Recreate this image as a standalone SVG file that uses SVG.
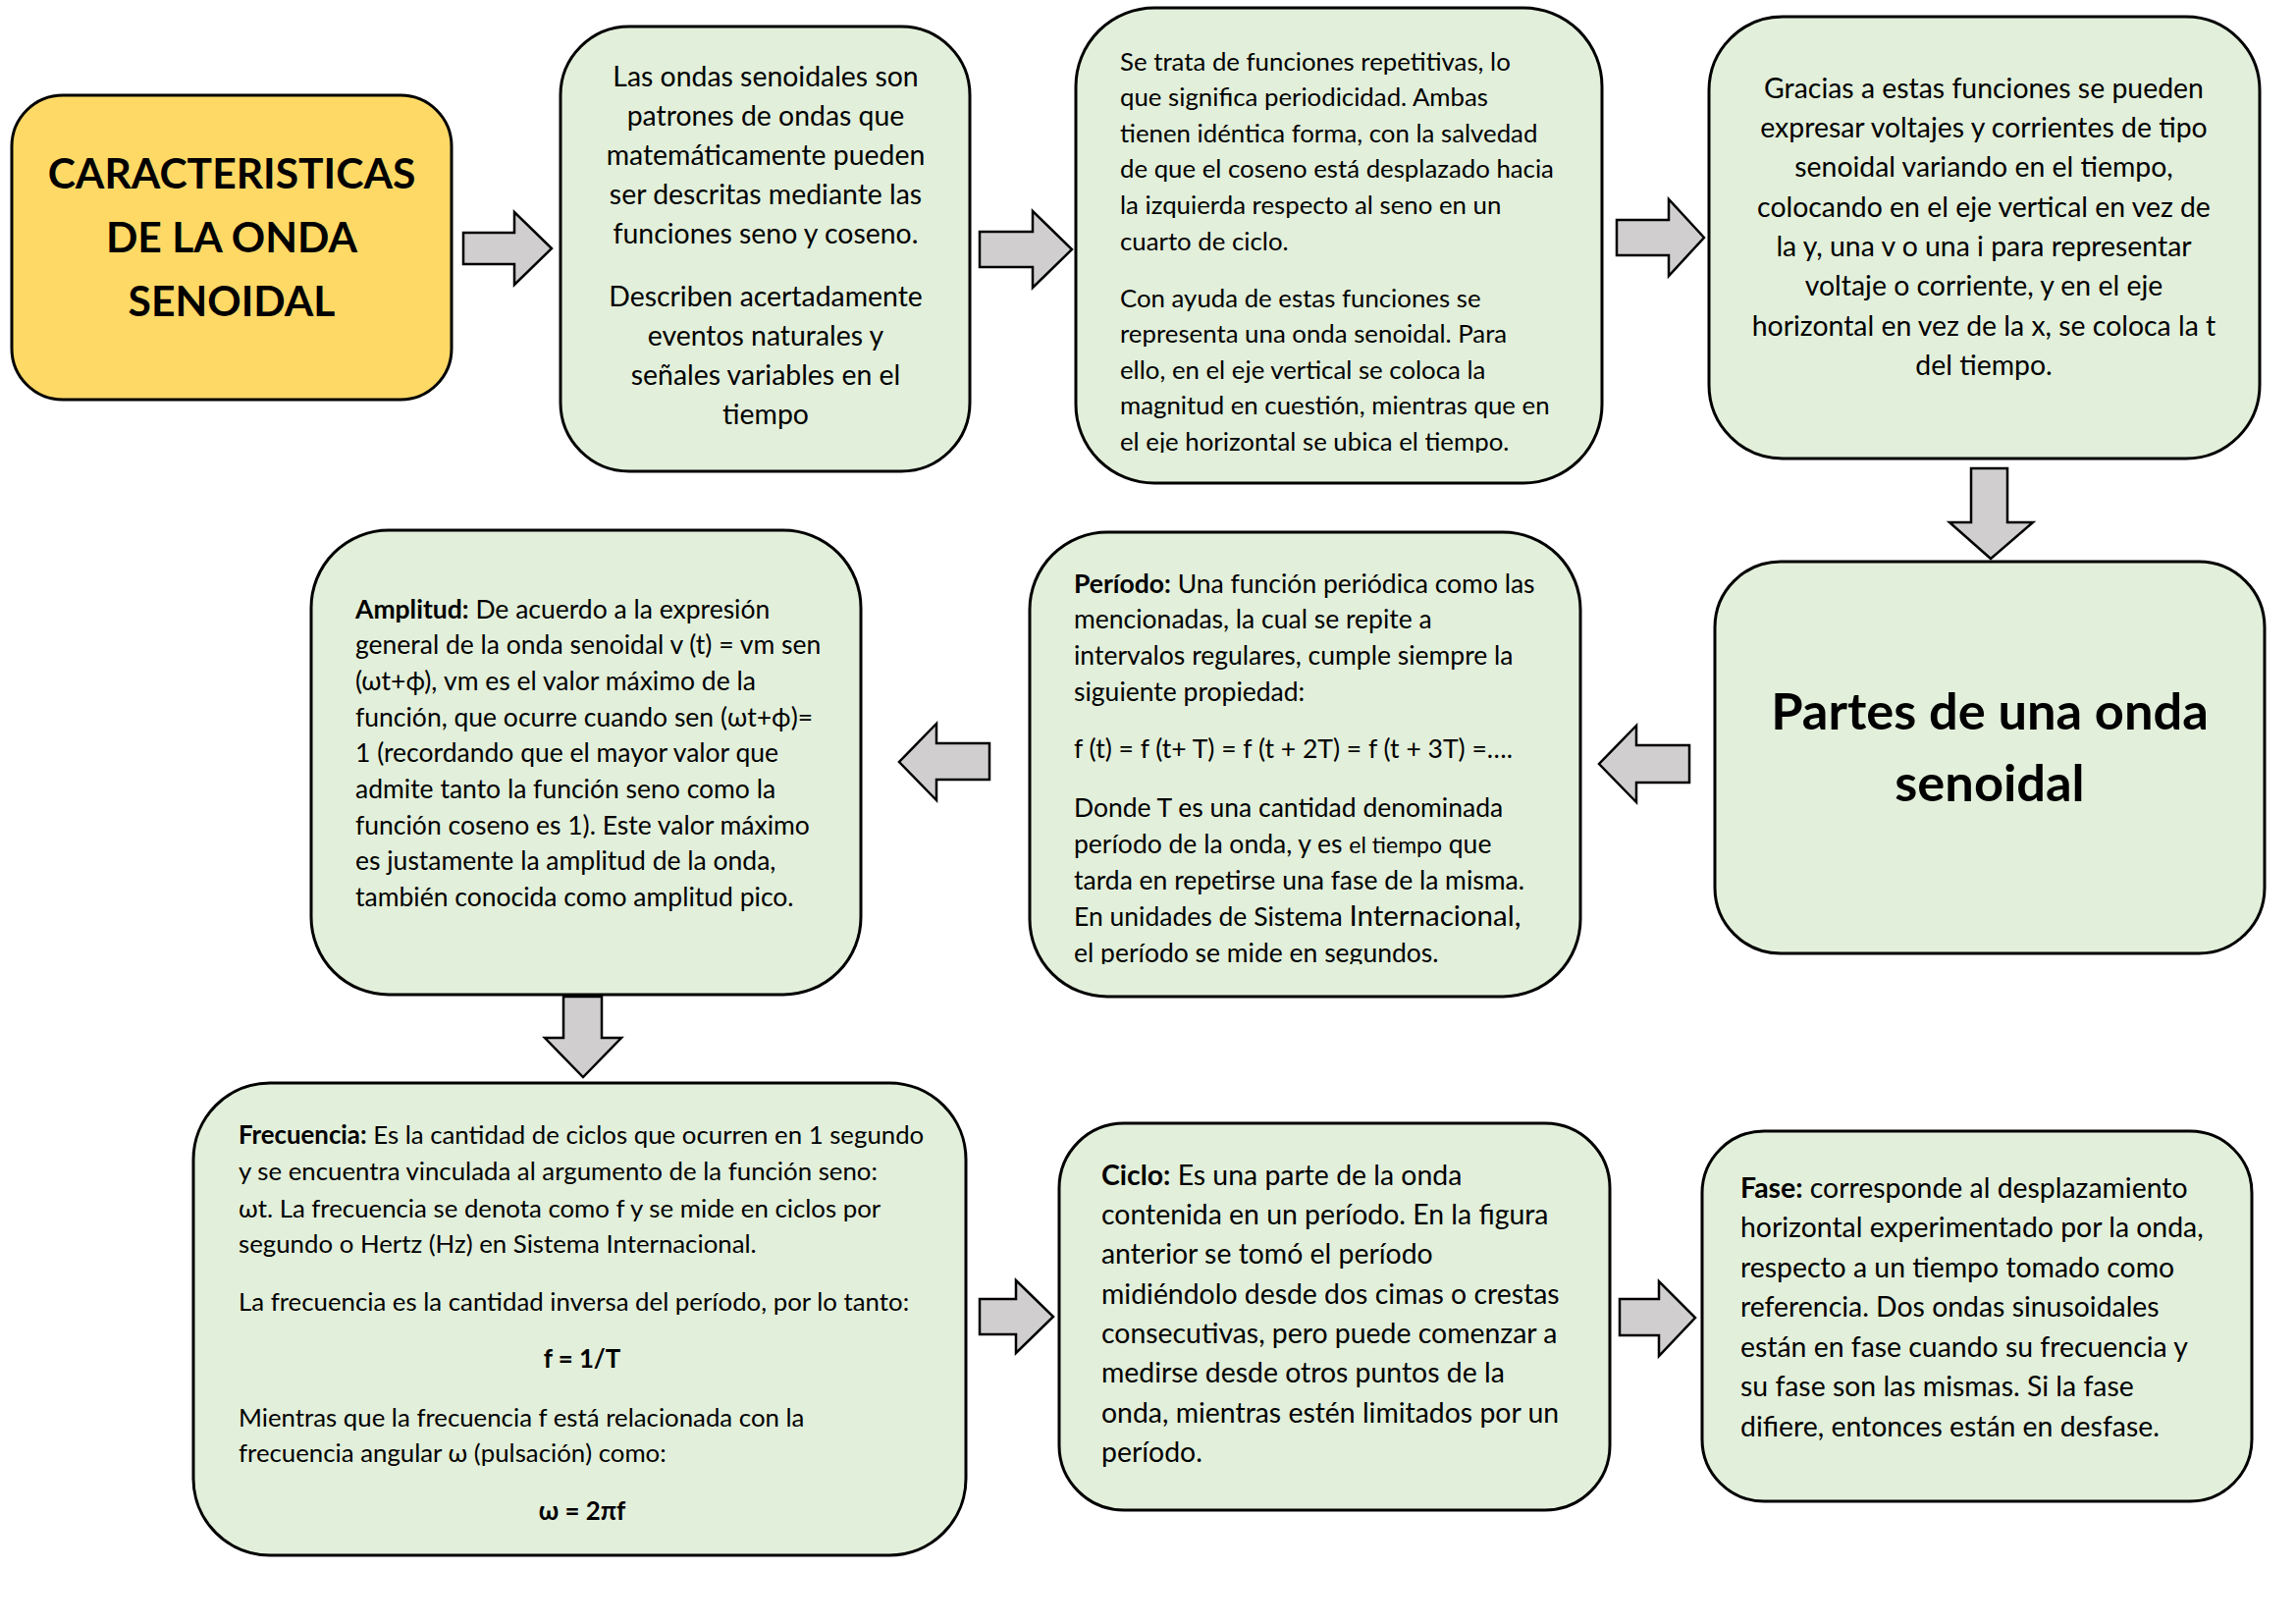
<svg xmlns="http://www.w3.org/2000/svg" width="2339" height="1654" viewBox="0 0 2339 1654">
<defs>
<style>
.node{fill:#E2EFDA;stroke:#000;stroke-width:3}
.title{fill:#FFD966;stroke:#000;stroke-width:3}
.arrow{fill:#D0CECE;stroke:#000;stroke-width:2.5;stroke-linejoin:miter}
text{font-family:Lato,"Open Sans","Liberation Sans",sans-serif;fill:#000}
.big{font-size:42.6px;font-weight:bold;text-anchor:middle}
.sub{font-size:52.4px;font-weight:bold;text-anchor:middle}
.m{font-size:28.4px}
.s{font-size:26.5px}
.x{font-size:25.8px}
.c{text-anchor:middle}
.b{font-weight:bold}
</style>
<clipPath id="clipC"><rect x="1096" y="8" width="536" height="453"/></clipPath>
<clipPath id="clipF"><rect x="1049" y="542" width="561" height="440"/></clipPath>
</defs>
<rect width="2339" height="1654" fill="#fff"/>
<g id="connectors">
<polygon class="arrow" points="472,237 524,237 524,216 562,253 524,290 524,269 472,269"/>
<polygon class="arrow" points="998,236 1052,236 1052,215 1092,254 1052,293 1052,272 998,272"/>
<polygon class="arrow" points="1647,224 1700,224 1700,203 1736,242 1700,281 1700,260 1647,260"/>
<polygon class="arrow" points="2008,477 2045,477 2045,532 2071,532 2028,569 1986,532 2008,532"/>
<polygon class="arrow" points="1721,759 1667,759 1667,739 1629,778 1667,817 1667,797 1721,797"/>
<polygon class="arrow" points="1008,757 954,757 954,737 916,776 954,815 954,794 1008,794"/>
<polygon class="arrow" points="574,1015 613,1015 613,1057 633,1057 594,1097 555,1057 574,1057"/>
<polygon class="arrow" points="998,1323 1035,1323 1035,1304 1073,1341 1035,1378 1035,1359 998,1359"/>
<polygon class="arrow" points="1650,1323 1690,1323 1690,1305 1727,1342 1690,1381 1690,1360 1650,1360"/>
</g>
<g id="n-title">
<rect class="title" x="12" y="97" width="448" height="310" rx="52"/>
<text class="big" x="236" y="192">CARACTERISTICAS</text>
<text class="big" x="236" y="257">DE LA ONDA</text>
<text class="big" x="236" y="322">SENOIDAL</text>
</g>
<g id="n-intro">
<rect class="node" x="571" y="27" width="417" height="453" rx="70"/>
<text class="m c" x="780" y="88">Las ondas senoidales son</text>
<text class="m c" x="780" y="128">patrones de ondas que</text>
<text class="m c" x="780" y="168">matemáticamente pueden</text>
<text class="m c" x="780" y="208">ser descritas mediante las</text>
<text class="m c" x="780" y="248">funciones seno y coseno.</text>
<text class="m c" x="780" y="312">Describen acertadamente</text>
<text class="m c" x="780" y="352">eventos naturales y</text>
<text class="m c" x="780" y="392">señales variables en el</text>
<text class="m c" x="780" y="432">tiempo</text>
</g>
<g id="n-periodicidad">
<rect class="node" x="1096" y="8" width="536" height="484" rx="80"/>
<g clip-path="url(#clipC)">
<text class="x" x="1141" y="71.5">Se trata de funciones repetitivas, lo</text>
<text class="x" x="1141" y="108">que significa periodicidad. Ambas</text>
<text class="x" x="1141" y="144.7">tienen idéntica forma, con la salvedad</text>
<text class="x" x="1141" y="181.3">de que el coseno está desplazado hacia</text>
<text class="x" x="1141" y="218">la izquierda respecto al seno en un</text>
<text class="x" x="1141" y="254.5">cuarto de ciclo.</text>
<text class="x" x="1141" y="312.5">Con ayuda de estas funciones se</text>
<text class="x" x="1141" y="349">representa una onda senoidal. Para</text>
<text class="x" x="1141" y="385.7">ello, en el eje vertical se coloca la</text>
<text class="x" x="1141" y="422.3">magnitud en cuestión, mientras que en</text>
<text class="x" x="1141" y="459">el eje horizontal se ubica el tiempo.</text>
</g>
</g>
<g id="n-voltajes">
<rect class="node" x="1741" y="17" width="561" height="450" rx="75"/>
<text class="m c" x="2021" y="99.5">Gracias a estas funciones se pueden</text>
<text class="m c" x="2021" y="140">expresar voltajes y corrientes de tipo</text>
<text class="m c" x="2021" y="180.2">senoidal variando en el tiempo,</text>
<text class="m c" x="2021" y="220.5">colocando en el eje vertical en vez de</text>
<text class="m c" x="2021" y="261">la y, una v o una i para representar</text>
<text class="m c" x="2021" y="301.3">voltaje o corriente, y en el eje</text>
<text class="m c" x="2021" y="341.6">horizontal en vez de la x, se coloca la t</text>
<text class="m c" x="2021" y="382">del tiempo.</text>
</g>
<g id="n-partes">
<rect class="node" x="1747" y="572" width="560" height="399" rx="67"/>
<text class="sub" x="2027" y="743">Partes de una onda</text>
<text class="sub" x="2027" y="816">senoidal</text>
</g>
<g id="n-periodo">
<rect class="node" x="1049" y="542" width="561" height="473" rx="79"/>
<g clip-path="url(#clipF)">
<text class="s" x="1094" y="603.5"><tspan class="b">Período:</tspan> Una función periódica como las</text>
<text class="s" x="1094" y="640">mencionadas, la cual se repite a</text>
<text class="s" x="1094" y="676.5">intervalos regulares, cumple siempre la</text>
<text class="s" x="1094" y="713.5">siguiente propiedad:</text>
<text class="s" x="1094" y="771.5">f (t) = f (t+ T) = f (t + 2T) = f (t + 3T) =….</text>
<text class="s" x="1094" y="832">Donde T es una cantidad denominada</text>
<text class="s" x="1094" y="868.5">período de la onda, y es <tspan font-size="23px">el tiempo</tspan> que</text>
<text class="s" x="1094" y="905.5">tarda en repetirse una fase de la misma.</text>
<text class="s" x="1094" y="943">En unidades de Sistema <tspan font-size="29.5px">Internacional,</tspan></text>
<text class="s" x="1094" y="980">el período se mide en segundos.</text>
</g>
</g>
<g id="n-amplitud">
<rect class="node" x="317" y="540" width="560" height="473" rx="79"/>
<text class="s" x="362" y="630"><tspan class="b">Amplitud:</tspan> De acuerdo a la expresión</text>
<text class="s" x="362" y="666">general de la onda senoidal v (t) = vm sen</text>
<text class="s" x="362" y="703">(ωt+ϕ), vm es el valor máximo de la</text>
<text class="s" x="362" y="740">función, que ocurre cuando sen (ωt+ϕ)=</text>
<text class="s" x="362" y="776">1 (recordando que el mayor valor que</text>
<text class="s" x="362" y="813">admite tanto la función seno como la</text>
<text class="s" x="362" y="850">función coseno es 1). Este valor máximo</text>
<text class="s" x="362" y="886">es justamente la amplitud de la onda,</text>
<text class="s" x="362" y="923">también conocida como amplitud pico.</text>
</g>
<g id="n-frecuencia">
<rect class="node" x="197" y="1103" width="787" height="481" rx="78"/>
<text class="x" x="243" y="1165"><tspan class="b">Frecuencia:</tspan> Es la cantidad de ciclos que ocurren en 1 segundo</text>
<text class="x" x="243" y="1202">y se encuentra vinculada al argumento de la función seno:</text>
<text class="x" x="243" y="1240">ωt. La frecuencia se denota como f y se mide en ciclos por</text>
<text class="x" x="243" y="1275.5">segundo o Hertz (Hz) en Sistema Internacional.</text>
<text class="x" x="243" y="1335">La frecuencia es la cantidad inversa del período, por lo tanto:</text>
<text class="x b c" x="593" y="1393">f = 1/T</text>
<text class="x" x="243" y="1453">Mientras que la frecuencia f está relacionada con la</text>
<text class="x" x="243" y="1489">frecuencia angular ω (pulsación) como:</text>
<text class="x b c" x="593" y="1548">ω = 2πf</text>
</g>
<g id="n-ciclo">
<rect class="node" x="1079" y="1144" width="561" height="394" rx="66"/>
<text class="m" x="1122" y="1206.5"><tspan class="b">Ciclo:</tspan> Es una parte de la onda</text>
<text class="m" x="1122" y="1246.8">contenida en un período. En la figura</text>
<text class="m" x="1122" y="1287.2">anterior se tomó el período</text>
<text class="m" x="1122" y="1327.5">midiéndolo desde dos cimas o crestas</text>
<text class="m" x="1122" y="1367.9">consecutivas, pero puede comenzar a</text>
<text class="m" x="1122" y="1408.2">medirse desde otros puntos de la</text>
<text class="m" x="1122" y="1448.6">onda, mientras estén limitados por un</text>
<text class="m" x="1122" y="1489">período.</text>
</g>
<g id="n-fase">
<rect class="node" x="1734" y="1152" width="560" height="377" rx="63"/>
<text class="m" x="1773" y="1219.5"><tspan class="b">Fase:</tspan> corresponde al desplazamiento</text>
<text class="m" x="1773" y="1260">horizontal experimentado por la onda,</text>
<text class="m" x="1773" y="1300.5">respecto a un tiempo tomado como</text>
<text class="m" x="1773" y="1341">referencia. Dos ondas sinusoidales</text>
<text class="m" x="1773" y="1381.5">están en fase cuando su frecuencia y</text>
<text class="m" x="1773" y="1422">su fase son las mismas. Si la fase</text>
<text class="m" x="1773" y="1462.5">difiere, entonces están en desfase.</text>
</g>
</svg>
